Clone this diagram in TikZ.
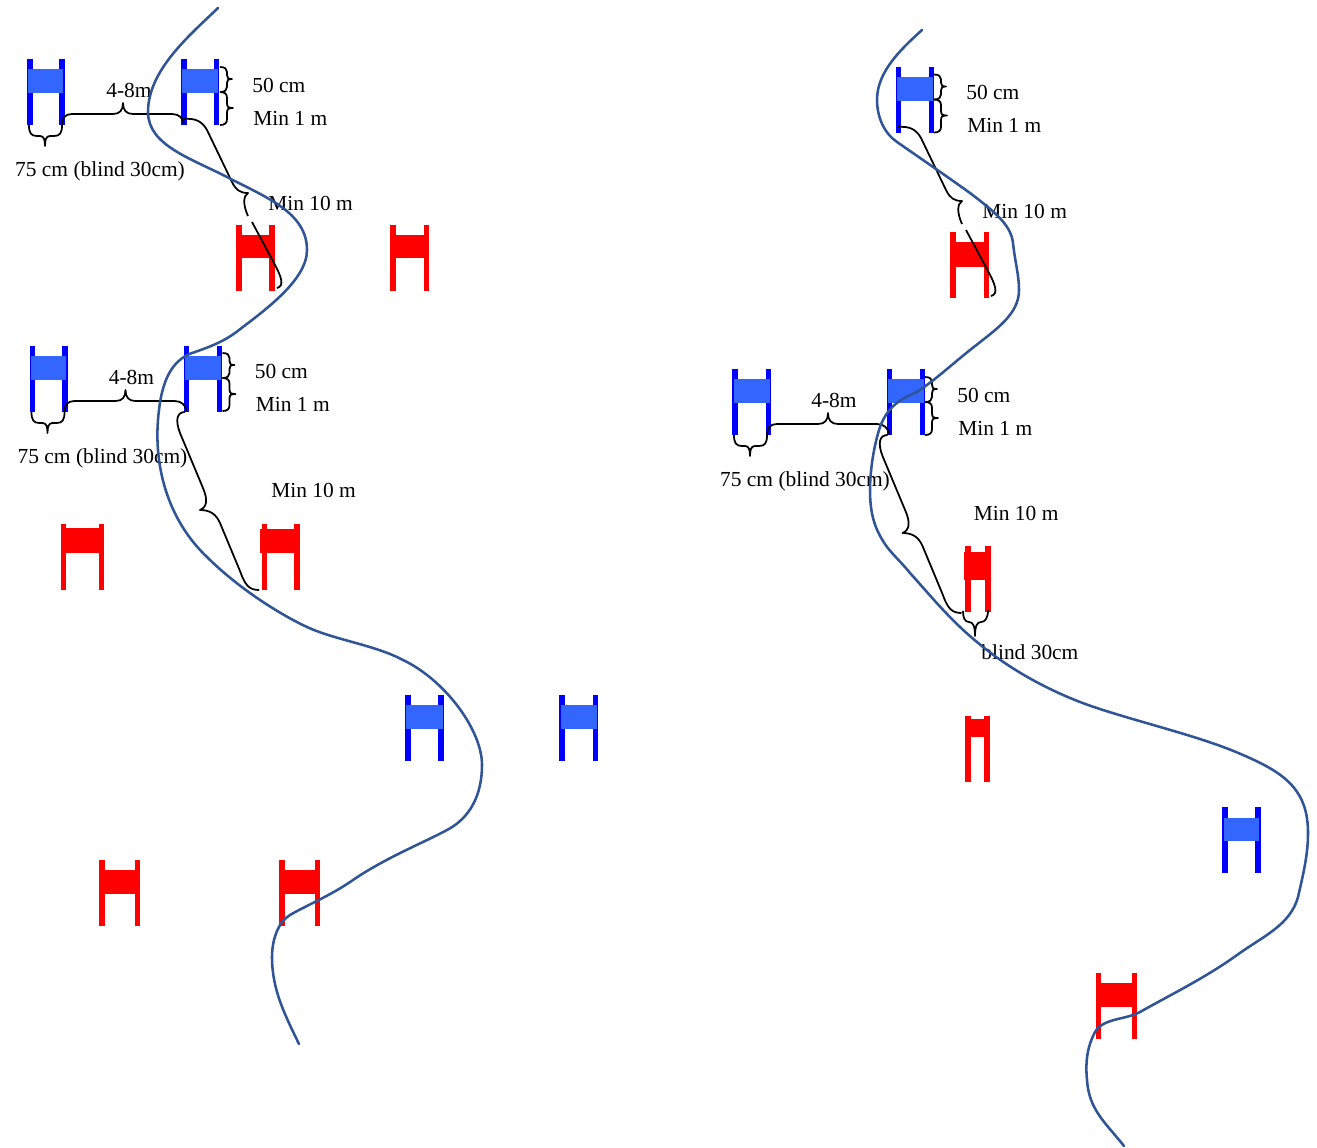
\documentclass[tikz,border=0pt]{standalone}
\usepackage{fontspec}
\setmainfont{Liberation Serif}
\definecolor{riverblue}{HTML}{2F5597}
\definecolor{gateblue}{HTML}{0000FF}
\definecolor{bannerblue}{HTML}{3366FF}
\definecolor{gatered}{HTML}{FF0000}
\tikzset{
  bluepost/.style={fill=gateblue},
  bluebanner/.style={fill=bannerblue},
  redpost/.style={fill=gatered},
  redbanner/.style={fill=gatered},
  river/.style={draw=riverblue,line width=1.45pt,line cap=round},
  bracket/.style={draw=black,line width=1pt,line join=round},
  lbl/.style={font=\fontsize{12.2}{14}\selectfont,inner sep=0pt,text=black},
  widthbraces/.pic={
    \draw[bracket] (29,125) .. controls (29,133) and (31,136) .. (37,136) -- (40,136)
      .. controls (44,136) and (45,140) .. (45,146)
      .. controls (45,140) and (46,136) .. (50,136) -- (54,136)
      .. controls (60,136) and (62,133) .. (62,125);
    \draw[bracket] (62,125) .. controls (62,118) and (65,114) .. (72,114) -- (113,114)
      .. controls (120,114) and (123,110) .. (123,103)
      .. controls (123,110) and (126,114) .. (133,114) -- (172,114)
      .. controls (179,114) and (183,118) .. (184,124);
    \node[lbl] (-width) at (100,171.5) {75 cm (blind 30cm)};
    \node[lbl] (-gap) at (129,90) {4-8m};
  },
  heightbraces/.pic={
    \draw[bracket] (220,67) .. controls (225,67) and (227,69) .. (227,72) -- (227,75)
      .. controls (227,78) and (228,79) .. (232,79)
      .. controls (228,79) and (227,80) .. (227,83) -- (227,87)
      .. controls (227,90) and (225,92) .. (220,92);
    \draw[bracket] (220,92) .. controls (225,92) and (227,94) .. (227,98) -- (227,103)
      .. controls (227,107) and (228,108) .. (233,108)
      .. controls (228,108) and (227,109) .. (227,113) -- (227,119)
      .. controls (227,123) and (225,125) .. (220,125);
    \node[lbl,anchor=west] (-banner) at (252,85) {50 cm};
    \node[lbl,anchor=west] (-clear) at (253,118) {Min 1 m};
  },
  upperreach/.pic={
    \draw[bracket] (184,119) .. controls (195,118) and (202,121) .. (207,130) -- (232,182)
      .. controls (236,190) and (240,193) .. (248,193)
      .. controls (243,196) and (243,205) .. (248,216);
    \draw[bracket] (252,222) -- (274,263)
      .. controls (281,276) and (285,286) .. (277,288);
    \node[lbl,anchor=west] (-reach) at (268,203) {Min 10 m};
  },
  lowerreach/.pic={
    \draw[bracket] (185,412) .. controls (177,412) and (175,420) .. (180,433) -- (203,488)
      .. controls (208,500) and (207,507) .. (200,510)
      .. controls (210,510) and (216,514) .. (220,523) -- (240,571)
      .. controls (245,585) and (249,590) .. (259,590);
    \node[lbl,anchor=west] (-reach) at (271,490) {Min 10 m};
  }
}
% post colour, post left, post right, top, banner left, banner right, banner top, banner bottom
\newcommand{\gatepair}[8]{
  \fill[#1post] (#2,#4) rectangle +(5.5,66);
  \fill[#1post] (#3-5.5,#4) rectangle +(5.5,66);
  \fill[#1banner] (#5,#7) rectangle (#6,#8);
}
\begin{document}
\begin{tikzpicture}[x=0.02cm,y=-0.02cm]
  \useasboundingbox (0,0) rectangle (1317,1147);

  % left course
  \gatepair{blue}{27}{64.5}{59}{28.2}{63.3}{69}{93}
  \gatepair{blue}{181}{219}{59}{182.2}{218}{69}{93}
  \gatepair{red}{236}{274.5}{225}{236}{274.5}{235}{258}
  \gatepair{red}{390}{429}{225}{390}{429}{235}{258}
  \gatepair{blue}{29.5}{67.5}{346}{30.7}{66}{356}{380}
  \gatepair{blue}{183.7}{222}{346}{185}{220.5}{356}{380}
  \gatepair{red}{60.5}{104}{524}{60.5}{99.3}{528}{553}
  \gatepair{red}{261.5}{299.7}{523.5}{260.3}{296}{529}{553}
  \gatepair{blue}{405}{443.7}{695}{406.2}{442.5}{705}{728.5}
  \gatepair{blue}{559.3}{598}{695}{560.5}{596.8}{705}{728.5}
  \gatepair{red}{99}{140}{860}{99}{140}{870}{894}
  \gatepair{red}{279}{320}{860}{279}{320}{870}{894}

  % right course
  \gatepair{blue}{895.7}{934}{67}{897}{932.7}{77}{101}
  \gatepair{red}{950.3}{989}{232}{950.3}{989}{242}{266.7}
  \gatepair{blue}{732.3}{771}{369.3}{733.5}{769.5}{379}{403}
  \gatepair{blue}{886.7}{925}{369.3}{888}{923.7}{379}{403}
  \gatepair{red}{965}{990.5}{545.5}{964}{990.5}{552}{580}
  \gatepair{red}{965}{989.7}{716}{965}{989.7}{719}{737}
  \gatepair{blue}{1222.3}{1260.7}{807}{1223.7}{1259}{817.7}{841}
  \gatepair{red}{1095.7}{1137.3}{973}{1095.7}{1137.3}{982.7}{1006.7}

  \pic (spanA) at (0,0) {widthbraces};
  \pic (heightA) at (0,0) {heightbraces};
  \pic (reachA) at (0,0) {upperreach};
  \pic (spanB) at (2.5,287) {widthbraces};
  \pic (heightB) at (2.5,286) {heightbraces};
  \pic (reachB) at (0,0) {lowerreach};

  \pic (heightC) at (714,7.5) {heightbraces};
  \pic (reachC) at (714,8) {upperreach};
  \pic (spanD) at (705,310) {widthbraces};
  \pic (heightD) at (705,310) {heightbraces};
  \pic (reachD) at (702.5,23) {lowerreach};

  \draw[bracket] (963,611) .. controls (963,618) and (965,622) .. (969,622)
    .. controls (973,622) and (975,626) .. (975,636)
    .. controls (975,626) and (977,622) .. (981,622)
    .. controls (985,622) and (988,618) .. (988,610);
  \node[lbl,anchor=west] (blindlabel) at (981,652) {blind 30cm};

  % rivers
  \draw[river] (218,8) .. controls (190,35) and (148,70) .. (148,112)
    .. controls (148,145) and (190,158) .. (227,177)
    .. controls (265,197) and (307,212) .. (307,250)
    .. controls (307,280) and (265,310) .. (239,330)
    .. controls (225,341) and (212,346) .. (195,352)
    .. controls (175,358) and (163,375) .. (159,410)
    .. controls (152,465) and (168,520) .. (207,557)
    .. controls (235,585) and (275,612) .. (307,627)
    .. controls (335,640) and (375,645) .. (403,660)
    .. controls (445,680) and (482,730) .. (482,765)
    .. controls (482,795) and (470,818) .. (447,830)
    .. controls (425,842) and (385,858) .. (353,880)
    .. controls (330,896) and (305,906) .. (290,915)
    .. controls (278,922) and (272,940) .. (272,957)
    .. controls (272,990) and (285,1015) .. (299,1044);
  \draw[river] (922,30) .. controls (900,50) and (877,72) .. (877,100)
    .. controls (877,118) and (885,134) .. (897,142)
    .. controls (920,158) and (945,175) .. (970,193)
    .. controls (995,212) and (1011,225) .. (1013,243)
    .. controls (1015,262) and (1019,275) .. (1019,290)
    .. controls (1019,315) and (995,330) .. (970,350)
    .. controls (950,366) and (935,380) .. (917,392)
    .. controls (903,398) and (888,405) .. (880,427)
    .. controls (874,445) and (870,470) .. (870,490)
    .. controls (870,515) and (875,530) .. (887,547)
    .. controls (895,557) and (902,563) .. (910,573)
    .. controls (930,595) and (950,620) .. (977,642)
    .. controls (1010,670) and (1055,695) .. (1103,710)
    .. controls (1150,725) and (1205,738) .. (1243,755)
    .. controls (1285,773) and (1308,790) .. (1308,833)
    .. controls (1308,855) and (1303,875) .. (1298,897)
    .. controls (1290,925) and (1265,935) .. (1237,955)
    .. controls (1205,978) and (1170,995) .. (1140,1012)
    .. controls (1125,1020) and (1103,1018) .. (1095,1032)
    .. controls (1088,1045) and (1085,1060) .. (1087,1080)
    .. controls (1089,1110) and (1105,1122) .. (1124,1146);
\end{tikzpicture}
\end{document}
